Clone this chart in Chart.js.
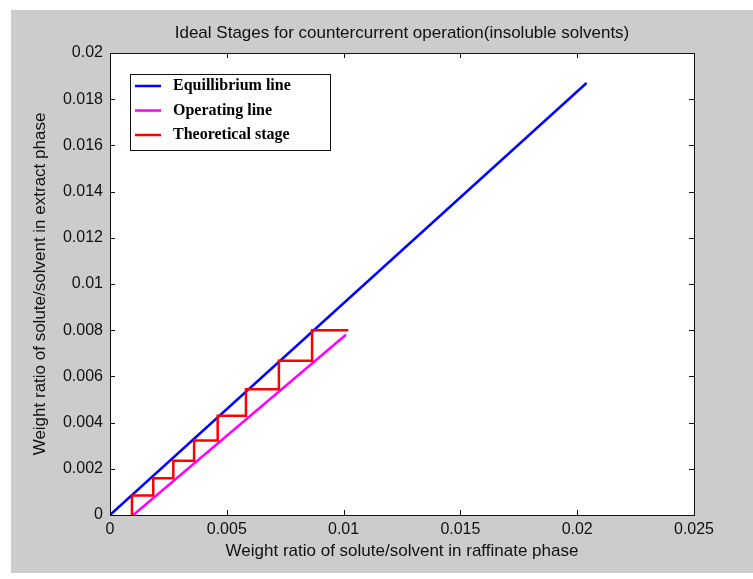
<!DOCTYPE html>
<html><head><meta charset="utf-8">
<script src="https://cdn.jsdelivr.net/npm/chart.js@4"></script>
<style>html,body{margin:0;padding:0;background:#fff;}#wrap{width:753px;height:579px;}</style>
</head><body><div id="wrap"><canvas id="c" width="753" height="579"></canvas></div>
<script>
const xTicks = [0, 0.005, 0.01, 0.015, 0.02, 0.025];
const xTickLabels = ['0', '0.005', '0.01', '0.015', '0.02', '0.025'];
const yTicks = [0, 0.002, 0.004, 0.006, 0.008, 0.01, 0.012, 0.014, 0.016, 0.018, 0.02];
const yTickLabels = ['0', '0.002', '0.004', '0.006', '0.008', '0.01', '0.012', '0.014', '0.016', '0.018', '0.02'];

const eqX = [0, 0.0204];
const eqY = [0, 0.0187];
const opX = [0.001, 0.0101];
const opY = [0, 0.0078];
const stageX = [0.0102, 0.00865, 0.00865, 0.00723, 0.00723, 0.00582, 0.00582, 0.00461, 0.00461, 0.0036, 0.0036, 0.00271, 0.00271, 0.00185, 0.00185, 0.00094, 0.00094];
const stageY = [0.008, 0.008, 0.00668, 0.00668, 0.00544, 0.00544, 0.0043, 0.0043, 0.00323, 0.00323, 0.00235, 0.00235, 0.00159, 0.00159, 0.00084, 0.00084, 0];

const seriesNames = ['Equillibrium line', 'Operating line', 'Theoretical stage'];
const seriesColors = ['#0000ff', '#ff00ff', '#ff0000'];

const pts = (xs, ys) => xs.map((x, i) => ({x: x, y: ys[i]}));
const SANS = "'Liberation Sans', Arial, sans-serif";

const bgPlugin = {
  id: 'bg',
  beforeDraw(chart) {
    const ctx = chart.ctx, a = chart.chartArea;
    ctx.save();
    ctx.fillStyle = '#cccccc';
    ctx.fillRect(11, 10, 742, 563);
    ctx.fillStyle = '#ffffff';
    ctx.fillRect(a.left, a.top, a.right - a.left, a.bottom - a.top);
    ctx.restore();
  }
};

const framePlugin = {
  id: 'frame',
  afterDatasetsDraw(chart) {
    const ctx = chart.ctx, a = chart.chartArea;
    const xs = chart.scales.x, ys = chart.scales.y;
    ctx.save();
    ctx.strokeStyle = '#111';
    ctx.lineWidth = 1;
    ctx.beginPath();
    xTicks.forEach(v => {
      const p = Math.round(xs.getPixelForValue(v)) + 0.5;
      ctx.moveTo(p, a.bottom); ctx.lineTo(p, a.bottom - 5);
      ctx.moveTo(p, a.top); ctx.lineTo(p, a.top + 5);
    });
    yTicks.forEach(v => {
      const p = Math.round(ys.getPixelForValue(v)) + 0.5;
      ctx.moveTo(a.left, p); ctx.lineTo(a.left + 5, p);
      ctx.moveTo(a.right, p); ctx.lineTo(a.right - 5, p);
    });
    ctx.stroke();
    ctx.strokeRect(Math.round(a.left) + 0.5, Math.round(a.top) + 0.5, Math.round(a.right - a.left), Math.round(a.bottom - a.top));
    ctx.restore();
  },
  afterDraw(chart) {
    const ctx = chart.ctx;
    ctx.save();
    ctx.fillStyle = '#ffffff';
    ctx.fillRect(130, 74, 201, 77);
    ctx.strokeStyle = '#111';
    ctx.lineWidth = 1;
    ctx.strokeRect(130.5, 74.5, 200, 76);
    ctx.font = "bold 16px 'Liberation Serif', 'DejaVu Serif', serif";
    ctx.textBaseline = 'middle';
    ctx.fillStyle = '#000';
    chart.data.datasets.forEach((ds, i) => {
      const y = 86 + i * 24.5;
      ctx.strokeStyle = ds.borderColor;
      ctx.lineWidth = 2.5;
      ctx.beginPath(); ctx.moveTo(135, y); ctx.lineTo(161, y); ctx.stroke();
      ctx.fillText(ds.label, 173, y);
    });
    ctx.restore();
  }
};

new Chart(document.getElementById('c'), {
  type: 'scatter',
  data: {
    datasets: [
      {label: seriesNames[0], data: pts(eqX, eqY), borderColor: seriesColors[0], backgroundColor: seriesColors[0], showLine: true, pointRadius: 0, borderWidth: 2.5, order: 1},
      {label: seriesNames[1], data: pts(opX, opY), borderColor: seriesColors[1], backgroundColor: seriesColors[1], showLine: true, pointRadius: 0, borderWidth: 2.5, order: 2},
      {label: seriesNames[2], data: pts(stageX, stageY), borderColor: seriesColors[2], backgroundColor: seriesColors[2], showLine: true, pointRadius: 0, borderWidth: 2.5, order: 0}
    ]
  },
  options: {
    responsive: false,
    animation: false,
    devicePixelRatio: 1,
    layout: {padding: {left: 0, right: 59, top: 0, bottom: 0}},
    plugins: {
      legend: {display: false},
      tooltip: {enabled: false},
      title: {
        display: true,
        fullSize: false,
        text: 'Ideal Stages for countercurrent operation(insoluble solvents)',
        color: '#111',
        font: {family: SANS, size: 17, weight: 'normal'},
        padding: {top: 23, bottom: 9.6}
      }
    },
    scales: {
      x: {
        type: 'linear', min: 0, max: 0.025,
        afterBuildTicks: s => { s.ticks = xTicks.map(v => ({value: v})); },
        afterFit: s => { s.height = 64; },
        ticks: {color: '#111', font: {family: SANS, size: 16}, padding: 5, maxRotation: 0, autoSkip: false,
          callback: (v, i) => xTickLabels[i]},
        grid: {display: false, drawTicks: false},
        border: {display: false},
        title: {display: true, text: 'Weight ratio of solute/solvent in raffinate phase', color: '#111',
          font: {family: SANS, size: 17}, padding: {top: 0, bottom: 17}}
      },
      y: {
        type: 'linear', min: 0, max: 0.02,
        afterBuildTicks: s => { s.ticks = yTicks.map(v => ({value: v})); },
        afterFit: s => { s.width = 110; },
        ticks: {color: '#111', font: {family: SANS, size: 16}, padding: 7, autoSkip: false,
          callback: (v, i) => yTickLabels[i]},
        grid: {display: false, drawTicks: false},
        border: {display: false},
        title: {display: true, text: 'Weight ratio of solute/solvent in extract phase', color: '#111',
          font: {family: SANS, size: 17}, padding: {top: 30, bottom: 0}}
      }
    }
  },
  plugins: [bgPlugin, framePlugin]
});
</script></body></html>
